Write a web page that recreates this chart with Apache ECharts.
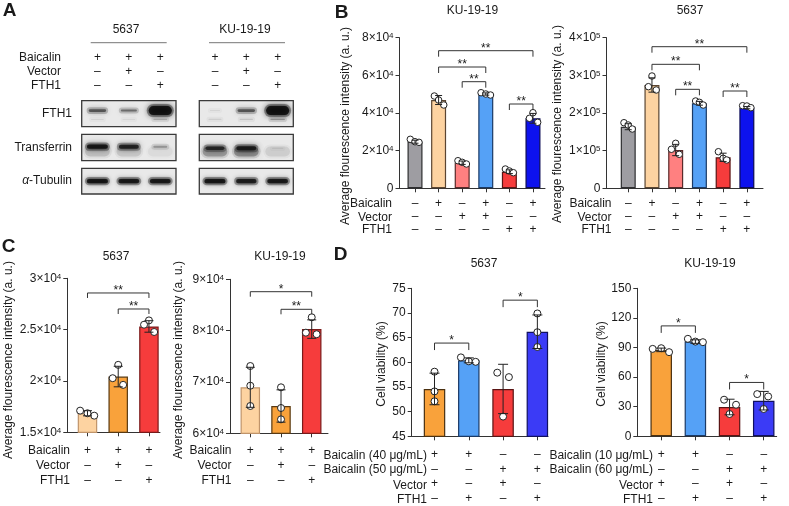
<!DOCTYPE html>
<html>
<head>
<meta charset="utf-8">
<script src="https://cdn.jsdelivr.net/npm/echarts@6.0.0/dist/echarts.min.js"></script>
<style>
html,body{margin:0;padding:0;background:#ffffff;}
#chart{width:789px;height:506px;}
</style>
</head>
<body>
<div id="chart"></div>
<script>
// ======================= DATA =======================
// Panel A – western blot
const blotCellLines = ['5637', 'KU-19-19'];
const blotRowNames = ['Baicalin', 'Vector', 'FTH1'];
const blotSigns = [['+', '+', '+'], ['–', '+', '–'], ['–', '–', '+']];
const blotProteins = ['FTH1', 'Transferrin', '{i|α}-Tubulin'];
const band5637FTH1 = [0.6, 0.5, 1.0];
const band5637FTH1Lower = [0.08, 0.07, 0.2];
const band5637Tf = [0.95, 0.85, 0.3];
const band5637TfSmear = [0.15, 0.12, 0.05];
const band5637Tub = [0.95, 0.92, 0.92];
const bandKUFTH1 = [0.08, 0.6, 1.0];
const bandKUFTH1Lower = [0.1, 0.14, 0.3];
const bandKUTf = [0.75, 0.85, 0.08];
const bandKUTfSmear = [0.3, 0.35, 0.1];
const bandKUTub = [0.95, 0.88, 0.92];

// Panel B
const bTitles = ['KU-19-19', '5637'];
const bRowNames = ['Baicalin', 'Vector', 'FTH1'];
const bSigns = [['–', '+', '–', '+', '–', '+'], ['–', '–', '+', '+', '–', '–'], ['–', '–', '–', '–', '+', '+']];
const bKUMean = [24750, 46900, 13600, 50090, 8820, 37180];
const bKUSd = [800, 2400, 900, 600, 1000, 2600];
const bKUPts = [[26030, 24750, 24430], [49030, 46900, 44250], [14660, 13810, 12910], [50780, 50090, 49560], [10250, 9190, 8290], [40160, 37180, 35060]];
const bKUJit = [[-0.2, 0, 0.17], [-0.18, 0, 0.22], [-0.18, 0, 0.18], [-0.2, 0, 0.2], [-0.17, 0, 0.17], [0, -0.15, 0.2]];
const bKUSig = [[1, 5, 73100, '**'], [1, 3, 64430, '**'], [2, 3, 56630, '**'], [4, 5, 44780, '**']];
const bKUTicks = [0, 20000, 40000, 60000, 80000];
const b5637Mean = [163600, 274400, 101700, 225800, 82300, 214100];
const b5637Sd = [8000, 19000, 15000, 5000, 11000, 3000];
const b5637Pts = [[174200, 168100, 157500], [298300, 269900, 261100], [119500, 103600, 90300], [231900, 228400, 221200], [97200, 79700, 75200], [219400, 218600, 214100]];
const b5637Jit = [[-0.18, 0, 0.17], [0, -0.15, 0.18], [0, -0.18, 0.15], [-0.16, 0, 0.16], [-0.2, 0, 0.15], [-0.18, 0, 0.17]];
const b5637Sig = [[1, 5, 376100, '**'], [1, 3, 329300, '**'], [2, 3, 262900, '**'], [4, 5, 258400, '**']];
const b5637Ticks = [0, 100000, 200000, 300000, 400000];

// Panel C
const cTitles = ['5637', 'KU-19-19'];
const cRowNames = ['Baicalin', 'Vector', 'FTH1'];
const cSigns = [['+', '+', '+'], ['–', '+', '–'], ['–', '–', '+']];
const c5637Mean = [16855, 20430, 25310];
const c5637Sd = [250, 1000, 560];
const c5637Pts = [[17110, 16855, 16620], [21570, 20270, 19620], [25900, 25480, 24770]];
const c5637Jit = [[-0.24, 0, 0.22], [0, -0.18, 0.16], [0, -0.16, 0.17]];
const c5637Sig = [[0, 2, 28570, '**'], [1, 2, 27010, '**']];
const c5637Ticks = [15000, 20000, 25000, 30000];
const cKUMean = [68960, 65320, 80300];
const cKUSd = [3900, 3150, 1800];
const cKUPts = [[73110, 69270, 65320], [68960, 64930, 62720], [82600, 79600, 79300]];
const cKUJit = [[0, 0, 0], [0, 0, 0], [0, -0.19, 0.16]];
const cKUSig = [[0, 2, 87585, '*'], [1, 2, 84156, '**']];
const cKUTicks = [60000, 70000, 80000, 90000];

// Panel D
const dTitles = ['5637', 'KU-19-19'];
const d5637RowNames = ['Baicalin (40 μg/mL)', 'Baicalin (50 μg/mL)', 'Vector', 'FTH1'];
const dKURowNames = ['Baicalin (10 μg/mL)', 'Baicalin (60 μg/mL)', 'Vector', 'FTH1'];
const dSigns = [['+', '+', '–', '–'], ['–', '–', '+', '+'], ['+', '–', '+', '–'], ['–', '+', '–', '+']];
const d5637Mean = [54.6, 60.4, 54.6, 66.2];
const d5637Sd = [3.2, 0.5, 5.0, 3.4];
const d5637Pts = [[58.1, 54.1, 52.1], [61.0, 60.2, 60.1], [57.9, 57.0, 49.0], [69.9, 66.1, 63.1]];
const d5637Jit = [[0, 0, 0], [-0.23, 0, 0.2], [-0.17, 0.17, 0], [0, 0, 0]];
const d5637Sig = [[0, 1, 63.9, '*'], [2, 3, 72.6, '*']];
const d5637Ticks = [45, 50, 55, 60, 65, 70, 75];
const dKUMean = [87.6, 96.0, 29.7, 36.1];
const dKUSd = [1.8, 1.8, 7.9, 9.4];
const dKUPts = [[88.6, 89.3, 85.3], [98.8, 96.0, 95.4], [37.1, 32.0, 22.6], [42.8, 40.4, 27.7]];
const dKUJit = [[-0.25, 0, 0.23], [-0.22, 0, 0.22], [-0.16, 0.19, 0], [-0.19, 0.13, 0]];
const dKUSig = [[0, 1, 111.9, '*'], [2, 3, 54.6, '*']];
const dKUTicks = [0, 30, 60, 90, 120, 150];
const yNameFluor = 'Average flourescence intensity (a. u.)';
const yNameViab = 'Cell viability (%)';

// ======================= LAYOUT / STYLE =======================
const FONT = "'Liberation Sans', Arial, Helvetica, sans-serif";
const INK = '#1a1a1a';
const AXC = '#333333';
const grids = [], xAxes = [], yAxes = [], series = [], graphics = [];

function text(x, y, str, o) {
  o = o || {};
  graphics.push({
    type: 'text', x: x, y: y, rotation: o.rot || 0, silent: true, z: 10,
    style: {
      text: str, fill: INK, fontSize: o.size || 12, fontFamily: FONT,
      fontWeight: o.bold ? 'bold' : 'normal',
      align: o.align || 'center', verticalAlign: 'middle', rich: o.rich || {}
    }
  });
}
function hline(x1, x2, y, color) {
  graphics.push({ type: 'line', silent: true, shape: { x1: x1, y1: y, x2: x2, y2: y }, style: { stroke: color, lineWidth: 1 } });
}
function sciFmt(exp) {
  return function (v) {
    if (v === 0) return '0';
    const m = Math.round(v / Math.pow(10, exp) * 100) / 100;
    return m + '×10{s|' + exp + '}';
  };
}
function rowNames(names, xRight, ys) {
  names.forEach((n, i) => text(xRight, ys[i], n, { align: 'right' }));
}

function addBlot(x0, y0, w, h, layers, signs) {
  const gi = grids.length;
  grids.push({ left: x0, top: y0, width: w, height: h, show: true, backgroundColor: '#e9e9e9', borderColor: '#3a3a3a', borderWidth: 1.3 });
  xAxes.push({
    gridIndex: gi, type: 'value', min: -0.5, max: 2.5, show: !!signs, position: 'top',
    axisLine: { show: false }, axisTick: { show: false }, splitLine: { show: false },
    axisLabel: {
      show: !!signs, customValues: [0, 1, 2],
      formatter: v => signs ? signs.map(r => r[Math.round(v)]).join('\n') : '',
      fontSize: 12, fontFamily: FONT, color: INK, lineHeight: 14.35, margin: 7.5
    }
  });
  yAxes.push({ gridIndex: gi, type: 'value', min: 0, max: 1, show: false, splitLine: { show: false } });
  layers.forEach(L => {
    series.push({
      type: 'custom', xAxisIndex: gi, yAxisIndex: gi, clip: true, silent: true, z: L.z || 2,
      data: L.vals.map((v, i) => [i, L.y, v]), encode: { x: 0, y: 1 },
      renderItem: (p, api) => {
        const c = api.coord([api.value(0), api.value(1)]);
        const I = api.value(2);
        const lane = api.size([1, 0])[0];
        const bw = lane * (L.w0 + L.w1 * I);
        const bh = L.h0 + L.h1 * Math.pow(I, L.pw || 1);
        const halo = { type: 'rect',
          shape: { x: c[0] - bw / 2 - 1, y: c[1] - bh / 2 - 1.5, width: bw + 2, height: bh + 3, r: (bh + 3) / 2 },
          style: { fill: 'rgba(20,20,20,' + (0.35 * I) + ')', shadowBlur: L.blur * 1.5, shadowColor: 'rgba(20,20,20,' + (0.6 * I) + ')' } };
        const core = { type: 'rect',
          shape: { x: c[0] - bw / 2 + 1, y: c[1] - bh / 2 + 0.5, width: bw - 2, height: Math.max(bh - 1, 1), r: bh / 2 },
          style: { fill: 'rgba(10,10,10,' + (0.85 * I) + ')', shadowBlur: L.blur, shadowColor: 'rgba(10,10,10,' + I + ')' } };
        return { type: 'group', children: [halo, core] };
      }
    });
  });
}

function addChart(c) {
  const gi = grids.length;
  const n = c.means.length;
  const idx = Array.from({ length: n }, (_, i) => i);
  grids.push({ left: c.x0, top: c.y0, width: c.x1 - c.x0, height: c.y1 - c.y0 });
  xAxes.push({
    gridIndex: gi, type: 'value', min: c.xmin, max: c.xmax,
    axisLine: { show: true, onZero: false, lineStyle: { color: AXC, width: 1 } },
    splitLine: { show: false },
    axisTick: { show: true, customValues: idx, length: 4, lineStyle: { color: AXC } },
    axisLabel: {
      customValues: idx, formatter: v => c.signs.map(r => r[Math.round(v)]).join('\n'),
      fontSize: 12, fontFamily: FONT, color: INK, lineHeight: c.lh, margin: c.lm
    }
  });
  yAxes.push({
    gridIndex: gi, type: 'value', min: c.ticks[0], max: c.ticks[c.ticks.length - 1], interval: c.ticks[1] - c.ticks[0],
    axisLine: { show: true, onZero: false, lineStyle: { color: AXC, width: 1 } },
    splitLine: { show: false },
    axisTick: { show: true, length: 4, lineStyle: { color: AXC } },
    axisLabel: {
      formatter: c.yfmt, fontSize: 12, fontFamily: FONT, color: INK, margin: 6,
      rich: { s: { fontSize: 8, fontFamily: FONT, color: INK, verticalAlign: 'top' } }
    }
  });
  series.push({
    type: 'bar', xAxisIndex: gi, yAxisIndex: gi, barWidth: c.bw, silent: true, z: 2,
    data: idx.map(i => ({ value: [i, c.means[i]], itemStyle: { color: c.colors[i], borderColor: c.borders[i], borderWidth: 1.2 } }))
  });
  const pts = [];
  idx.forEach(i => c.pts[i].forEach((v, k) => pts.push([i + c.jit[i][k], v])));
  series.push({
    type: 'scatter', xAxisIndex: gi, yAxisIndex: gi, data: pts, symbol: 'circle', symbolSize: c.ps, z: 3, silent: true,
    itemStyle: { color: '#ffffff', borderColor: '#222222', borderWidth: 1, opacity: 1 }
  });
  series.push({
    type: 'custom', xAxisIndex: gi, yAxisIndex: gi, z: 4, silent: true,
    data: idx.map(i => [i, c.means[i], c.sds[i]]), encode: { x: 0, y: 1 },
    renderItem: (p, api) => {
      const x = api.value(0), m = api.value(1), s = api.value(2);
      const hi = api.coord([x, m + s]), lo = api.coord([x, m - s]);
      const w = c.cap / 2;
      const st = { stroke: '#222222', lineWidth: 1 };
      return {
        type: 'group', children: [
          { type: 'line', shape: { x1: hi[0], y1: hi[1], x2: lo[0], y2: lo[1] }, style: st },
          { type: 'line', shape: { x1: hi[0] - w, y1: hi[1], x2: hi[0] + w, y2: hi[1] }, style: st },
          { type: 'line', shape: { x1: lo[0] - w, y1: lo[1], x2: lo[0] + w, y2: lo[1] }, style: st }
        ]
      };
    }
  });
  series.push({
    type: 'custom', xAxisIndex: gi, yAxisIndex: gi, z: 4, silent: true,
    data: c.sig.map(s => [s[0], s[2], s[1]]), encode: { x: 0, y: 1 },
    renderItem: (p, api) => {
      const s = c.sig[p.dataIndex];
      const p1 = api.coord([s[0], s[2]]), p2 = api.coord([s[1], s[2]]);
      const t = c.tick;
      return {
        type: 'group', children: [
          { type: 'polyline', shape: { points: [[p1[0], p1[1] + t], p1, p2, [p2[0], p2[1] + t]] }, style: { stroke: '#333333', lineWidth: 1, fill: null } },
          { type: 'text', x: (p1[0] + p2[0]) / 2, y: p1[1] - 2.5, style: { text: s[3], fontSize: 12, fontFamily: FONT, fill: INK, align: 'center', verticalAlign: 'middle' } }
        ]
      };
    }
  });
}

// ---------- Panel A ----------
text(9.5, 11, 'A', { bold: true, size: 19 });
text(126, 30, blotCellLines[0]);
text(245, 30, blotCellLines[1]);
hline(90.7, 166.7, 42.7, '#777');
hline(209, 285, 42.7, '#777');
rowNames(blotRowNames, 61, [57.3, 71.7, 86]);
rowNames(blotProteins.slice(0, 2), 72, [113.7, 147.5]);
text(72, 181, blotProteins[2], { align: 'right', rich: { i: { fontStyle: 'italic', fontSize: 12, fontFamily: FONT, fill: INK } } });

const lFTH1 = (vals, lower) => [
  { vals: lower, y: 0.28, w0: 0.45, w1: 0.25, h0: 2, h1: 1, blur: 4 },
  { vals: vals, y: 0.62, w0: 0.35, w1: 0.45, h0: 2, h1: 8, pw: 3, blur: 5, z: 3 }
];
const lTf = (vals, smear, yc) => [
  { vals: smear, y: 0.35, w0: 0.85, w1: 0, h0: 11, h1: 0, blur: 8 },
  { vals: vals, y: yc, w0: 0.4, w1: 0.35, h0: 2, h1: 3.5, blur: 4, z: 3 }
];
const lTub = (vals) => [{ vals: vals, y: 0.5, w0: 0.45, w1: 0.3, h0: 2.5, h1: 3, blur: 3.5 }];
addBlot(81.7, 100.7, 94.3, 26, lFTH1(band5637FTH1, band5637FTH1Lower), blotSigns);
addBlot(81.7, 134.3, 94.3, 26.4, lTf(band5637Tf, band5637TfSmear, 0.53));
addBlot(81.7, 168.3, 94.3, 25.7, lTub(band5637Tub));
addBlot(199.3, 100.7, 94, 26, lFTH1(bandKUFTH1, bandKUFTH1Lower), blotSigns);
addBlot(199.3, 134.3, 94, 26.4, lTf(bandKUTf, bandKUTfSmear, 0.47));
addBlot(199.3, 168.3, 94, 25.7, lTub(bandKUTub));

// ---------- Panel B ----------
const bColors = ['#9e9da2', '#fdd3a1', '#ff8080', '#55a1f6', '#f63c3c', '#0d12ee'];
const bBorders = ['#2e2e30', '#5b4632', '#5a2a2a', '#1b3a66', '#5a1414', '#0a0a55'];
text(341.5, 12.5, 'B', { bold: true, size: 19 });
text(472.5, 11, bTitles[0]);
text(690, 11, bTitles[1]);
text(345.5, 126, yNameFluor, { rot: Math.PI / 2 });
text(557.5, 124, yNameFluor, { rot: Math.PI / 2 });
rowNames(bRowNames, 392, [204, 217.3, 230]);
rowNames(bRowNames, 611.5, [204, 217.3, 230]);
addChart({ x0: 399.5, x1: 545, y0: 37.7, y1: 188.3, xmin: -0.657, xmax: 5.51, ticks: bKUTicks, yfmt: sciFmt(4),
  means: bKUMean, sds: bKUSd, pts: bKUPts, jit: bKUJit, sig: bKUSig, signs: bSigns, colors: bColors, borders: bBorders,
  bw: 15, ps: 6.5, cap: 7, tick: 6, lh: 13.1, lm: 9 });
addChart({ x0: 606.5, x1: 763, y0: 37.7, y1: 188.3, xmin: -0.916, xmax: 5.68, ticks: b5637Ticks, yfmt: sciFmt(5),
  means: b5637Mean, sds: b5637Sd, pts: b5637Pts, jit: b5637Jit, sig: b5637Sig, signs: bSigns, colors: bColors, borders: bBorders,
  bw: 15, ps: 6.5, cap: 7, tick: 6, lh: 13.1, lm: 9 });

// ---------- Panel C ----------
const cColors = ['#fdd3a1', '#f9a23b', '#f63c3c'];
const cBorders = ['#c0946a', '#5a3a12', '#7a1a1a'];
text(8.5, 246.5, 'C', { bold: true, size: 19 });
text(116, 257, cTitles[0]);
text(280, 257, cTitles[1]);
text(8.5, 360, yNameFluor, { rot: Math.PI / 2 });
text(179, 360, yNameFluor, { rot: Math.PI / 2 });
rowNames(cRowNames, 70, [450.7, 465.3, 480.7]);
rowNames(cRowNames, 231.5, [450.7, 465.3, 480.7]);
addChart({ x0: 67.3, x1: 160, y0: 278.3, y1: 432.3, xmin: -0.657, xmax: 2.36, ticks: c5637Ticks, yfmt: sciFmt(4),
  means: c5637Mean, sds: c5637Sd, pts: c5637Pts, jit: c5637Jit, sig: c5637Sig, signs: cSigns, colors: cColors, borders: cBorders,
  bw: 19.5, ps: 7, cap: 9, tick: 5, lh: 15, lm: 11 });
addChart({ x0: 230, x1: 328, y0: 279.3, y1: 433.3, xmin: -0.661, xmax: 2.53, ticks: cKUTicks, yfmt: sciFmt(4),
  means: cKUMean, sds: cKUSd, pts: cKUPts, jit: cKUJit, sig: cKUSig, signs: cSigns, colors: cColors, borders: cBorders,
  bw: 19.5, ps: 7, cap: 9, tick: 5, lh: 15, lm: 10 });

// ---------- Panel D ----------
const dColors = ['#f9a23b', '#55a1f6', '#f63c3c', '#3b3bf6'];
const dBorders = ['#4a3010', '#1b3a66', '#5a1414', '#101060'];
text(340.5, 255, 'D', { bold: true, size: 19 });
text(484, 264, dTitles[0]);
text(710, 264, dTitles[1]);
text(381.5, 364, yNameViab, { rot: Math.PI / 2 });
text(601.7, 364, yNameViab, { rot: Math.PI / 2 });
rowNames(d5637RowNames, 427, [455.3, 470, 485.3, 499.3]);
rowNames(dKURowNames, 653, [455.3, 470, 485.3, 499.3]);
addChart({ x0: 411.7, x1: 548, y0: 288.3, y1: 436.7, xmin: -0.665, xmax: 3.31, ticks: d5637Ticks, yfmt: v => String(v),
  means: d5637Mean, sds: d5637Sd, pts: d5637Pts, jit: d5637Jit, sig: d5637Sig, signs: dSigns, colors: dColors, borders: dBorders,
  bw: 21.5, ps: 7, cap: 10, tick: 7, lh: 14.67, lm: 11 });
addChart({ x0: 637.3, x1: 776.7, y0: 288.3, y1: 436.7, xmin: -0.70, xmax: 3.38, ticks: dKUTicks, yfmt: v => String(v),
  means: dKUMean, sds: dKUSd, pts: dKUPts, jit: dKUJit, sig: dKUSig, signs: dSigns, colors: dColors, borders: dBorders,
  bw: 21.5, ps: 7, cap: 10, tick: 7, lh: 14.67, lm: 11 });

const chart = echarts.init(document.getElementById('chart'), null, { renderer: 'canvas', width: 789, height: 506 });
chart.setOption({
  animation: false,
  backgroundColor: '#ffffff',
  textStyle: { fontFamily: FONT },
  grid: grids, xAxis: xAxes, yAxis: yAxes, series: series, graphic: graphics
});
</script>
</body>
</html>
